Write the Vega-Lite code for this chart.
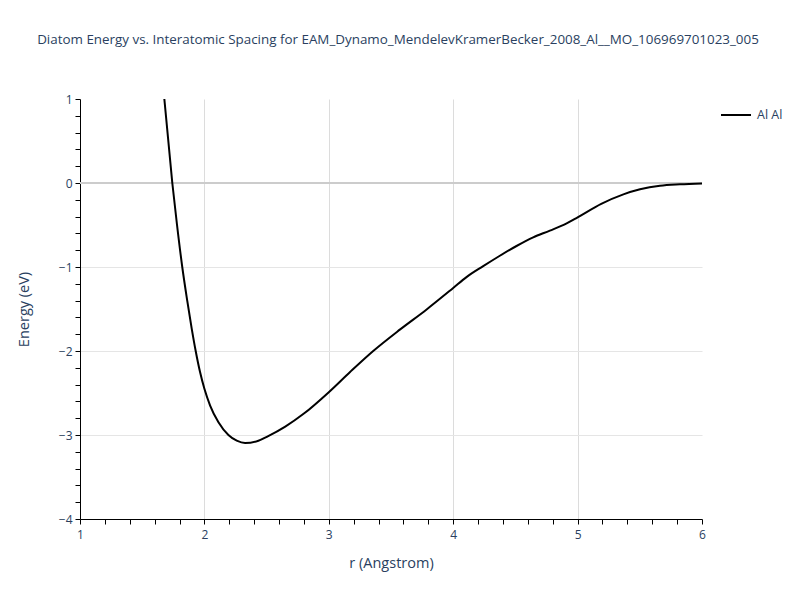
{
  "$schema": "https://vega.github.io/schema/vega-lite/v6.json",
  "width": 622,
  "height": 420,
  "autosize": "none",
  "padding": {"left": 80, "top": 99, "right": 98, "bottom": 81},
  "background": "white",
  "config": {
    "font": "Open Sans",
    "view": {"stroke": null},
    "axis": {"labelColor": "#2a3f5f", "titleColor": "#2a3f5f", "labelFontSize": 12, "titleFontSize": 14, "titleFontWeight": "normal", "domainColor": "#000000", "tickColor": "#000000", "gridColor": "#e5e5e5"}
  },
  "title": {"text": "Diatom Energy vs. Interatomic Spacing for EAM_Dynamo_MendelevKramerBecker_2008_Al__MO_106969701023_005", "fontSize": 13.4, "fontWeight": "normal", "color": "#2a3f5f", "anchor": "middle", "frame": "group", "offset": 47, "dx": 7},
  "datasets": {
    "curve": [
      {"r": 1.678, "E": 1.0, "pair": "Al Al"},
      {"r": 1.742, "E": 0.0, "pair": "Al Al"},
      {"r": 1.78, "E": -0.5, "pair": "Al Al"},
      {"r": 1.822, "E": -1.0, "pair": "Al Al"},
      {"r": 1.862, "E": -1.4, "pair": "Al Al"},
      {"r": 1.898, "E": -1.733, "pair": "Al Al"},
      {"r": 1.93, "E": -2.0, "pair": "Al Al"},
      {"r": 1.965, "E": -2.251, "pair": "Al Al"},
      {"r": 2.0, "E": -2.45, "pair": "Al Al"},
      {"r": 2.046, "E": -2.649, "pair": "Al Al"},
      {"r": 2.113, "E": -2.849, "pair": "Al Al"},
      {"r": 2.193, "E": -3.0, "pair": "Al Al"},
      {"r": 2.26, "E": -3.068, "pair": "Al Al"},
      {"r": 2.327, "E": -3.096, "pair": "Al Al"},
      {"r": 2.434, "E": -3.068, "pair": "Al Al"},
      {"r": 2.509, "E": -3.016, "pair": "Al Al"},
      {"r": 2.65, "E": -2.9, "pair": "Al Al"},
      {"r": 2.8, "E": -2.745, "pair": "Al Al"},
      {"r": 3.0, "E": -2.49, "pair": "Al Al"},
      {"r": 3.171, "E": -2.25, "pair": "Al Al"},
      {"r": 3.357, "E": -2.0, "pair": "Al Al"},
      {"r": 3.571, "E": -1.746, "pair": "Al Al"},
      {"r": 3.784, "E": -1.508, "pair": "Al Al"},
      {"r": 4.0, "E": -1.25, "pair": "Al Al"},
      {"r": 4.107, "E": -1.12, "pair": "Al Al"},
      {"r": 4.241, "E": -0.99, "pair": "Al Al"},
      {"r": 4.375, "E": -0.866, "pair": "Al Al"},
      {"r": 4.509, "E": -0.75, "pair": "Al Al"},
      {"r": 4.643, "E": -0.647, "pair": "Al Al"},
      {"r": 4.777, "E": -0.567, "pair": "Al Al"},
      {"r": 4.912, "E": -0.48, "pair": "Al Al"},
      {"r": 5.0, "E": -0.409, "pair": "Al Al"},
      {"r": 5.19, "E": -0.248, "pair": "Al Al"},
      {"r": 5.368, "E": -0.135, "pair": "Al Al"},
      {"r": 5.502, "E": -0.075, "pair": "Al Al"},
      {"r": 5.662, "E": -0.032, "pair": "Al Al"},
      {"r": 5.823, "E": -0.015, "pair": "Al Al"},
      {"r": 6.0, "E": -0.005, "pair": "Al Al"}
    ],
    "zero": [{"E": 0}]
  },
  "encoding": {
    "y": {
      "field": "E", "type": "quantitative",
      "scale": {"domain": [-4, 1], "nice": false, "zero": false},
      "title": "Energy (eV)",
      "axis": {
        "values": [-4,-3.8,-3.6,-3.4,-3.2,-3,-2.8,-2.6,-2.4,-2.2,-2,-1.8,-1.6,-1.4,-1.2,-1,-0.8,-0.6,-0.4,-0.2,0,0.2,0.4,0.6,0.8,1],
        "labelExpr": "datum.value % 1 === 0 ? replace(format(datum.value, 'd'), '-', '\u2212') : ''",
        "gridOpacity": {"condition": {"test": "datum.value % 1 === 0 && datum.value > -4 && datum.value < 1 && datum.value !== 0", "value": 1}, "value": 0},
        "tickSize": 5,
        "labelPadding": 3,
        "titlePadding": 27,
        "titleFontSize": 14.5,
        "labelFlush": false
      }
    }
  },
  "layer": [
    {
      "data": {"name": "zero"},
      "mark": {"type": "rule", "color": "#cccccc", "strokeWidth": 2}
    },
    {
      "data": {"name": "curve"},
      "mark": {"type": "line", "strokeWidth": 2, "clip": true, "interpolate": "monotone"},
      "encoding": {
        "x": {
          "field": "r", "type": "quantitative",
          "scale": {"domain": [1, 6], "nice": false, "zero": false},
          "title": "r (Angstrom)",
          "axis": {
            "values": [1,1.2,1.4,1.6,1.8,2,2.2,2.4,2.6,2.8,3,3.2,3.4,3.6,3.8,4,4.2,4.4,4.6,4.8,5,5.2,5.4,5.6,5.8,6],
            "labelExpr": "datum.value % 1 === 0 ? format(datum.value, 'd') : ''",
            "gridOpacity": {"condition": {"test": "datum.value % 1 === 0 && datum.value > 1 && datum.value < 6", "value": 1}, "value": 0},
            "gridColor": "#dcdcdc",
            "tickSize": 5,
            "labelPadding": 5,
            "titlePadding": 16,
            "titleFontSize": 14.5,
            "labelFlush": false
          }
        },
        "color": {
          "field": "pair", "type": "nominal",
          "scale": {"range": ["#000000"]},
          "legend": {"title": null, "orient": "none", "legendX": 640, "legendY": 0, "symbolType": "stroke", "symbolSize": 900, "symbolStrokeWidth": 2, "labelFontSize": 12.5, "labelOffset": 5, "labelColor": "#2a3f5f", "labelFont": "Open Sans"}
        }
      }
    }
  ]
}
